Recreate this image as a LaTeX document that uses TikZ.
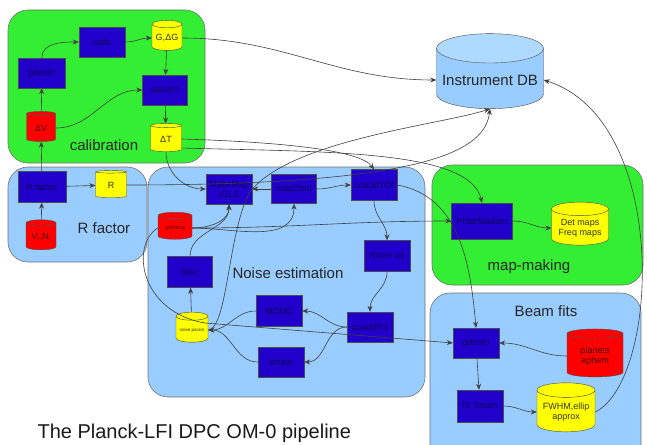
\documentclass[tikz,border=0pt]{standalone}
\usepackage{fontspec}
\setmainfont{Liberation Sans}
\usetikzlibrary{positioning, arrows.meta, shapes.geometric}
\definecolor{calgreen}{RGB}{51,238,51}
\definecolor{grpblue}{RGB}{153,204,255}
\definecolor{procblue}{RGB}{34,0,204}
\definecolor{proctext}{RGB}{10,0,90}
\definecolor{storeyellow}{RGB}{255,255,0}
\definecolor{storered}{RGB}{255,0,0}
\definecolor{dbblue}{RGB}{153,204,255}
\definecolor{dbtop}{RGB}{175,218,255}
\tikzset{
  grp/.style={draw=black!55, rounded corners=20pt, line width=0.6pt},
  grplabel/.style={font=\fontsize{15}{17}\selectfont, text=black!85},
  proc/.style={rectangle, draw=black!70, fill=procblue, text=proctext,
    minimum width=46pt, minimum height=30pt, inner sep=1pt, align=center,
    font=\fontsize{9}{10}\selectfont},
  store/.style={cylinder, shape border rotate=90, aspect=0.3, draw=black!70,
    inner sep=1pt, cylinder uses custom fill, align=center,
    font=\fontsize{9}{10}\selectfont},
  yellowstore/.style={store, cylinder body fill=storeyellow,
    cylinder end fill=storeyellow, text=black!80},
  redstore/.style={store, cylinder body fill=storered,
    cylinder end fill=storered, text=red!30!black},
  link/.style={draw=black!75, line width=0.6pt},
}

\begin{document}
\begin{tikzpicture}[x=1pt,y=-1pt,>={Stealth[length=6pt,width=5pt]}]
  \clip (0,0) rectangle (647,444);
  \fill[white] (0,0) rectangle (647,444);

  % Groups
  \node[grp, fill=calgreen, minimum width=197pt, minimum height=153pt] (calibGrp) at (106.5,86.5) {};
  \node[grp, fill=grpblue, minimum width=139pt, minimum height=95pt] (rfacGrp) at (77.5,214.5) {};
  \node[grp, fill=grpblue, minimum width=277pt, minimum height=230pt] (noiseGrp) at (286.5,282) {};
  \node[grp, fill=calgreen, minimum width=211pt, minimum height=120pt] (mapGrp) at (537.5,225) {};
  \node[grp, fill=grpblue, minimum width=211pt, minimum height=177pt] (beamGrp) at (535.5,381.5) {};

  \node[grplabel] (calibLbl) at (104,145) {calibration};
  \node[grplabel] (rfacLbl) at (104,228) {R factor};
  \node[grplabel] (noiseLbl) at (288,273) {Noise estimation};
  \node[grplabel] (mapLbl) at (529,267) {map-making};
  \node[grplabel] (beamLbl) at (546,311) {Beam fits};

  % Nodes
  \node[proc, minimum width=47pt] (gdestri) at (42,73) {gdestri};
  \node[proc] (calib) at (102,42) {calib};
  \node[yellowstore, minimum width=30pt, minimum height=30pt] (GdG) at (167,38) {G,ΔG};
  \node[proc, minimum width=45pt] (applyG) at (165,90) {applyG};
  \node[redstore, minimum width=29pt, minimum height=30pt] (dV) at (41,128) {ΔV};
  \node[yellowstore, minimum width=31pt, minimum height=28pt] (dT) at (166,139) {ΔT};

  \node[proc, minimum width=48pt, minimum height=31pt] (Rbox) at (42,187) {R factor};
  \node[yellowstore, minimum width=31pt, minimum height=27pt] (Rcyl) at (111,185) {R};
  \node[redstore, minimum width=30pt, minimum height=30pt] (VN) at (41,237) {V\textsubscript{i},N\textsubscript{i}};

  \node[proc] (makemap) at (229,189) {MakeMap\\IGLS};
  \node[proc, minimum width=45pt, minimum height=29pt] (map2tod) at (294,189) {map2tod};
  \node[proc, minimum height=31pt] (coaddTOI) at (374,185) {coaddTOI};
  \node[redstore, minimum width=34pt, minimum height=27pt, font=\fontsize{5.5}{6}\selectfont] (pointing) at (175,228) {pointing};
  \node[proc, minimum width=45pt, minimum height=31pt] (filter) at (190,272) {filter};
  \node[proc, minimum height=31pt] (noiseps) at (387,256) {Noise ps};
  \node[proc, minimum height=31pt] (mcmc) at (279,311) {MCMC};
  \node[proc] (coaddPS) at (370,327) {coaddPS};
  \node[proc] (white) at (281,362) {whitte};
  \node[yellowstore, minimum width=32pt, minimum height=30pt, font=\fontsize{4.5}{5}\selectfont] (noiseparam) at (192,330) {noise param};

  \node[proc, minimum width=61pt, minimum height=36pt] (polar) at (482,221) {PolarMadam};
  \node[yellowstore, minimum width=57pt, minimum height=43pt] (detmaps) at (580,228) {Det maps\\Freq maps};

  \node[proc] (gdestriB) at (476,343) {gdestri};
  \node[redstore, minimum width=56pt, minimum height=48pt] (planets) at (595,356) {planets\\ephem};
  \node[proc, minimum height=32pt] (fitbeam) at (480,406) {fit\_beam};
  \node[yellowstore, minimum width=58pt, minimum height=49pt] (fwhm) at (566,412) {FWHM,ellip\\approx};

  \node[store, cylinder body fill=dbblue, cylinder end fill=dbtop, minimum width=107pt, minimum height=75pt,
    font=\fontsize{15}{17}\selectfont, text=black!85] (instDB) at (490,80) {Instrument DB};

  \node[anchor=base west, font=\fontsize{20}{22}\selectfont, text=black!90] (title) at (34,438) {The Planck-LFI DPC OM-0 pipeline};

  % Arrows
  \draw[link,->] (dV) -- (gdestri);
  \draw[link,->] (gdestri.north) to[out=90,in=180] (calib.west);
  \draw[link,->] (calib.east) to[out=0,in=180] (GdG.west);
  \draw[link,->] (GdG) -- (applyG);
  \draw[link,->] (dV.east) to[out=0,in=180] (applyG.west);
  \draw[link,->] (applyG) -- (dT);
  \draw[link,->] (GdG.east) to[out=0,in=180] (instDB.west);

  \draw[link,->] (VN) -- (Rbox);
  \draw[link,->] (Rbox) -- (dV);
  \draw[link,->] (Rbox) -- (Rcyl);
  \draw[link,->] (Rcyl.east) .. controls (430,185) and (485,150) .. (instDB.south);

  \draw[link,->] (dT.east) .. controls (280,142) and (360,150) .. (coaddTOI.north);
  \draw[link,->] (dT.-30) .. controls (330,152) and (470,150) .. (polar.north);
  \draw[link,->] (dT.south) to[out=-90,in=180] (makemap.west);

  \draw[link,->] (map2tod) -- (makemap);
  \draw[link,->] (map2tod.east) to[out=0,in=180] (coaddTOI.west);
  \draw[link,->] (pointing.east) to[out=0,in=-90] (makemap.south);
  \draw[link,->] (pointing.east) to[out=0,in=-90] (map2tod.south);
  \draw[link,->] (pointing.east) to[out=0,in=180] (polar.west);
  \draw[link,->] (filter.north) to[out=90,in=-90] (makemap.south);
  \draw[link,->] (noiseparam) -- (filter);
  \draw[link,->] (coaddTOI.south) to[out=-90,in=90] (noiseps.north);
  \draw[link,->] (noiseps.south) to[out=-90,in=90] (coaddPS.north);
  \draw[link,->] (coaddPS.west) to[out=180,in=0] (mcmc.east);
  \draw[link,->] (coaddPS.west) to[out=180,in=0] (white.east);
  \draw[link,->] (mcmc.west) to[out=180,in=0] (noiseparam.east);
  \draw[link,->] (white.west) to[out=180,in=0] (noiseparam.east);
  \draw[link,->] (noiseparam.east) .. controls (228,328) and (228,230) .. (250,192)
    .. controls (290,140) and (440,125) .. (instDB.south);
  \draw[link,->] (pointing.west) .. controls (130,245) and (140,312) .. (205,323) -- (gdestriB.west);

  \draw[link,->] (coaddTOI.east) to[out=-10,in=95] (gdestriB.north);
  \draw[link,->] (polar.east) to[out=0,in=180] (detmaps.west);
  \draw[link,->] (planets.west) to[out=180,in=0] (gdestriB.east);
  \draw[link,->] (gdestriB) -- (fitbeam);
  \draw[link,->] (fitbeam.east) to[out=0,in=180] (fwhm.west);
  \draw[link,->] (fwhm.east) .. controls (660,380) and (670,120) .. (instDB.east);
\end{tikzpicture}
\end{document}
